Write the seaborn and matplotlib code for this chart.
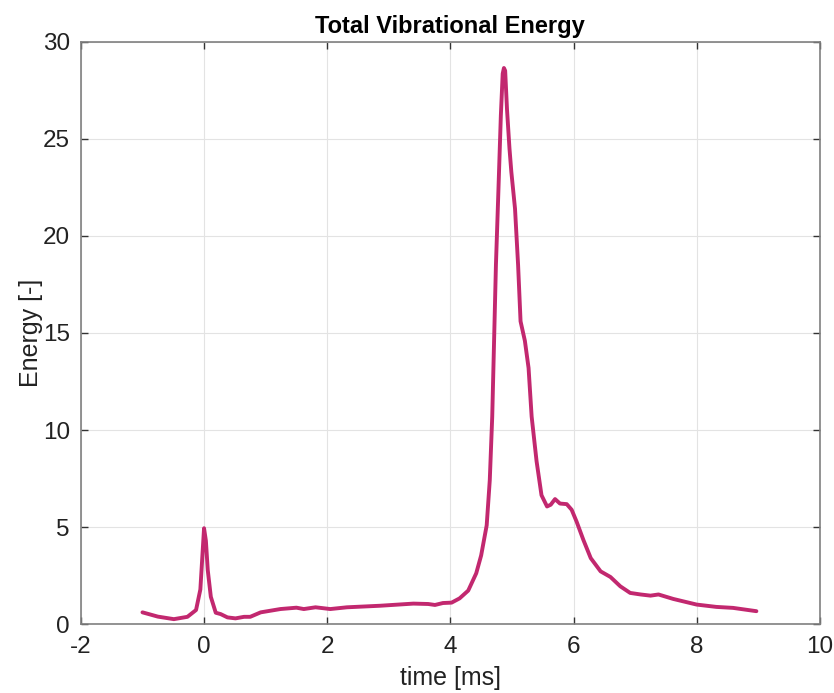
import matplotlib
matplotlib.use("Agg")
import matplotlib.pyplot as plt
import seaborn as sns
import pandas as pd

# time [ms] and energy
time_ms = [-1.0, -0.75, -0.49, -0.27, -0.13, -0.06, -0.02, 0.0, 0.03, 0.06, 0.11, 0.19, 0.27,
           0.38, 0.51, 0.65, 0.75, 0.92, 1.24, 1.5, 1.62, 1.81, 2.05, 2.32,
           2.86, 3.4, 3.64, 3.75, 3.88, 4.02, 4.15, 4.29, 4.42, 4.5, 4.59,
           4.64, 4.68, 4.71, 4.74, 4.78, 4.82, 4.85, 4.87, 4.89, 4.92, 4.96, 4.99,
           5.05, 5.1, 5.14, 5.21, 5.27, 5.32, 5.4, 5.48, 5.57, 5.63, 5.7,
           5.78, 5.89, 5.97, 6.05, 6.16, 6.28, 6.44, 6.6, 6.76, 6.92, 7.09,
           7.25, 7.38, 7.62, 8.0, 8.32, 8.59, 8.97]
energy = [0.62, 0.40, 0.27, 0.39, 0.74, 1.8, 3.9, 4.95, 4.3, 2.8, 1.42, 0.6, 0.53,
          0.36, 0.31, 0.39, 0.39, 0.62, 0.79, 0.86, 0.79, 0.88, 0.79, 0.88,
          0.96, 1.07, 1.05, 1.0, 1.1, 1.12, 1.34, 1.74, 2.63, 3.55, 5.1,
          7.42, 10.7, 14.6, 18.5, 22.3, 26.2, 28.35, 28.64, 28.5, 26.5, 24.5, 23.3,
          21.4, 18.5, 15.6, 14.6, 13.2, 10.7, 8.4, 6.65, 6.07, 6.16, 6.45,
          6.22, 6.19, 5.9, 5.29, 4.35, 3.41, 2.73, 2.44, 1.96, 1.62, 1.54,
          1.48, 1.54, 1.31, 1.02, 0.9, 0.85, 0.68]

df = pd.DataFrame({"time": time_ms, "energy": energy})

sns.set_style("whitegrid")
plt.rcParams['font.family'] = ['Liberation Sans', 'DejaVu Sans']
plt.rcParams['axes.unicode_minus'] = False

fig = plt.figure(figsize=(8.34, 6.93), dpi=100)
ax = fig.add_axes([0.097, 0.099, 0.886, 0.841])

sns.lineplot(data=df, x="time", y="energy", color="#C2286F", linewidth=2.8, ax=ax)

ax.set_xlim(-2, 10)
ax.set_ylim(0, 30)
ax.set_xticks(range(-2, 11, 2))
ax.set_yticks(range(0, 31, 5))
ax.grid(True, color="#e3e3e3", linewidth=0.8)
for s in ax.spines.values():
    s.set_visible(True)
    s.set_color("#808080")
    s.set_linewidth(1.2)
ax.tick_params(direction="in", length=5, width=1, color="#333333",
               labelsize=17.5, labelcolor="#222222", top=True, right=True,
               bottom=True, left=True, pad=8)

ax.set_xlabel("time [ms]", fontsize=18, color="#222222", labelpad=6)
ax.set_ylabel("Energy [-]", fontsize=18, color="#222222", labelpad=0)
ax.set_title("Total Vibrational Energy", fontsize=17, fontweight="bold",
             color="black", pad=6)

fig.savefig("out.png", dpi=100)
